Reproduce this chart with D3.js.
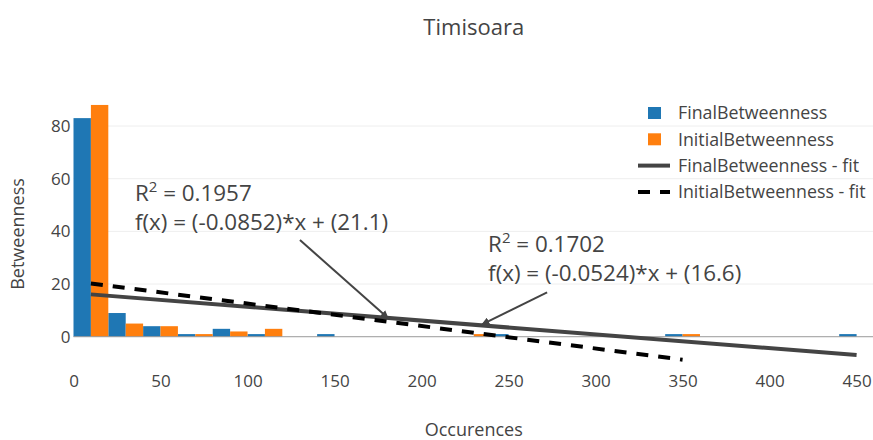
<!DOCTYPE html>
<html>
<head>
<meta charset="utf-8">
<script src="https://cdn.jsdelivr.net/npm/d3@7"></script>
<style>
  body { margin: 0; background: #fff; }
  svg { font-family: "Open Sans", sans-serif; }
</style>
</head>
<body>
<svg id="chart" width="873" height="440"></svg>
<script>
// histogram bins (centre of each 20-wide bin) and counts
const bins = [10, 30, 50, 70, 90, 110, 150, 230, 250, 350, 450]
const finalBetweenness = [83, 9, 4, 1, 3, 1, 1, 0, 1, 1, 1]
const initialBetweenness = [88, 5, 4, 1, 2, 3, 0, 1, 0, 1, 0]

// fit lines, end points
const finalFitX = [10, 450]
const finalFitY = [16.08, -6.98]
const initialFitX = [10, 350]
const initialFitY = [20.25, -8.72]

const xTicks = [0, 50, 100, 150, 200, 250, 300, 350, 400, 450]
const yTicks = [0, 20, 40, 60, 80]

const seriesNames = ['FinalBetweenness', 'InitialBetweenness', 'FinalBetweenness - fit', 'InitialBetweenness - fit']

const annotations = [
    { r2: '0.1957', eq: 'f(x) = (-0.0852)*x + (21.1)', x: 180.7, y: 7.1, ax: -88, ay: -78, tx: -253, ty: -117 },
    { r2: '0.1702', eq: 'f(x) = (-0.0524)*x + (16.6)', x: 234.8, y: 4.7, ax: 65, ay: -32, tx: 6, ty: -72 }
]

const blue = '#1f77b4', orange = '#ff7f0e', grey = '#444'
const binWidth = 20

const svg = d3.select('#chart')

const xScale = d3.scaleLinear().domain([0, 460]).range([73.5, 874])
const yScale = d3.scaleLinear().domain([-11, 92.5]).range([365.7, 93.1])

// grid
svg.append('g')
    .selectAll('line')
    .data(yTicks.filter(d => d !== 0))
    .enter()
    .append('line')
    .attr('x1', xScale.range()[0])
    .attr('x2', xScale.range()[1])
    .attr('y1', d => yScale(d))
    .attr('y2', d => yScale(d))
    .attr('stroke', '#eee')
    .attr('stroke-width', 1)

// y axis labels
const yAxis = d3.axisLeft(yScale).tickValues(yTicks).tickSize(0).tickPadding(3)
const yAxisG = svg.append('g')
    .attr('transform', `translate(${xScale.range()[0]},0)`)
    .call(yAxis)
yAxisG.select('.domain').remove()
yAxisG.selectAll('text').attr('font-size', 17).attr('fill', grey).attr('font-family', 'Open Sans')

// x axis labels
const xAxis = d3.axisBottom(xScale).tickValues(xTicks).tickSize(0).tickPadding(9)
const xAxisG = svg.append('g')
    .attr('transform', `translate(0,${yScale.range()[0]})`)
    .call(xAxis)
xAxisG.select('.domain').remove()
xAxisG.selectAll('text').attr('font-size', 17).attr('fill', grey).attr('font-family', 'Open Sans')

// bars
svg.append('g')
    .selectAll('rect.final')
    .data(bins.map((b, i) => ({ bin: b, value: finalBetweenness[i] })).filter(d => d.value > 0))
    .enter()
    .append('rect')
    .attr('class', 'final')
    .attr('x', d => xScale(d.bin - binWidth / 2))
    .attr('width', d => xScale(d.bin) - xScale(d.bin - binWidth / 2))
    .attr('y', d => yScale(d.value))
    .attr('height', d => yScale(0) - yScale(d.value))
    .attr('fill', blue)

svg.append('g')
    .selectAll('rect.initial')
    .data(bins.map((b, i) => ({ bin: b, value: initialBetweenness[i] })).filter(d => d.value > 0))
    .enter()
    .append('rect')
    .attr('class', 'initial')
    .attr('x', d => xScale(d.bin))
    .attr('width', d => xScale(d.bin + binWidth / 2) - xScale(d.bin))
    .attr('y', d => yScale(d.value))
    .attr('height', d => yScale(0) - yScale(d.value))
    .attr('fill', orange)

// zero line
svg.append('line')
    .attr('x1', xScale.range()[0])
    .attr('x2', xScale.range()[1])
    .attr('y1', yScale(0))
    .attr('y2', yScale(0))
    .attr('stroke', '#999')
    .attr('stroke-width', 1)

// fit lines
const line = d3.line().x(d => xScale(d[0])).y(d => yScale(d[1]))
svg.append('path')
    .attr('d', line(finalFitX.map((x, i) => [x, finalFitY[i]])))
    .attr('fill', 'none')
    .attr('stroke', grey)
    .attr('stroke-width', 4)
svg.append('path')
    .attr('d', line(initialFitX.map((x, i) => [x, initialFitY[i]])))
    .attr('fill', 'none')
    .attr('stroke', '#000')
    .attr('stroke-width', 4)
    .attr('stroke-dasharray', '12,10')

// annotations
svg.append('defs').append('marker')
    .attr('id', 'arrow')
    .attr('viewBox', '0 0 10 10')
    .attr('refX', 9)
    .attr('refY', 5)
    .attr('markerWidth', 8)
    .attr('markerHeight', 8)
    .attr('markerUnits', 'userSpaceOnUse')
    .attr('orient', 'auto')
    .append('path')
    .attr('d', 'M0,0L10,5L0,10Z')
    .attr('fill', grey)

annotations.forEach(a => {
    const px = xScale(a.x), py = yScale(a.y)
    svg.append('line')
        .attr('x1', px + a.ax)
        .attr('y1', py + a.ay)
        .attr('x2', px)
        .attr('y2', py)
        .attr('stroke', grey)
        .attr('stroke-width', 2)
        .attr('marker-end', 'url(#arrow)')
    const t = svg.append('text')
        .attr('x', px + a.tx)
        .attr('y', py + a.ty)
        .attr('font-size', 22.4)
        .attr('fill', grey)
    t.append('tspan').text('R')
    t.append('tspan').attr('font-size', 15).attr('dy', -9).text('2')
    t.append('tspan').attr('dy', 9).text(' = ' + a.r2)
    svg.append('text')
        .attr('x', px + a.tx)
        .attr('y', py + a.ty + 28.5)
        .attr('font-size', 22.4)
        .attr('fill', grey)
        .text(a.eq)
})

// legend
const legend = svg.append('g').attr('transform', 'translate(638,113)')
seriesNames.forEach((name, i) => {
    const g = legend.append('g').attr('transform', `translate(0,${i * 26.3})`)
    if (i < 2) {
        g.append('rect').attr('x', 10).attr('y', -6).attr('width', 13).attr('height', 12)
            .attr('fill', i === 0 ? blue : orange)
    } else {
        g.append('line').attr('x1', 0).attr('x2', 32).attr('y1', 0).attr('y2', 0)
            .attr('stroke', i === 2 ? grey : '#000')
            .attr('stroke-width', 4)
            .attr('stroke-dasharray', i === 3 ? '12,10' : null)
    }
    g.append('text').attr('x', 40).attr('dy', '0.35em')
        .attr('font-size', 17.8).attr('fill', grey).text(name)
})

// titles
svg.append('text')
    .attr('x', (xScale.range()[0] + xScale.range()[1]) / 2)
    .attr('y', 27).attr('dy', '0.35em')
    .attr('text-anchor', 'middle')
    .attr('font-size', 22).attr('fill', grey)
    .text('Timisoara')
svg.append('text')
    .attr('x', (xScale.range()[0] + xScale.range()[1]) / 2)
    .attr('y', 430).attr('dy', '0.35em')
    .attr('text-anchor', 'middle')
    .attr('font-size', 18).attr('fill', grey)
    .text('Occurences')
svg.append('text')
    .attr('transform', 'translate(18,234) rotate(-90)')
    .attr('dy', '0.35em')
    .attr('text-anchor', 'middle')
    .attr('font-size', 18).attr('fill', grey)
    .text('Betweenness')
</script>
</body>
</html>
